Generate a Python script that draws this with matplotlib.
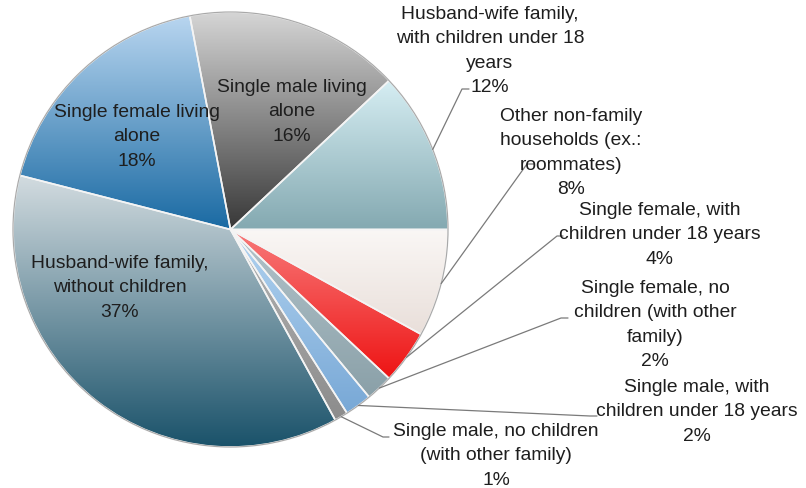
import numpy as np
import matplotlib
matplotlib.use("Agg")
import matplotlib.pyplot as plt
from matplotlib.colors import to_rgb

# Household types and their shares (%)
categories = [
    "Husband-wife family,\nwith children under 18\nyears",
    "Single male living\nalone",
    "Single female living\nalone",
    "Husband-wife family,\nwithout children",
    "Single male, no children\n(with other family)",
    "Single male, with\nchildren under 18 years",
    "Single female, no\nchildren (with other\nfamily)",
    "Single female, with\nchildren under 18 years",
    "Other non-family\nhouseholds (ex.:\nroommates)",
]
shares = [12, 16, 18, 37, 1, 2, 2, 4, 8]

# Vertical gradient of each slice: colour at its top and at its bottom
top_colors = ["#d6eef3", "#d6d6d6", "#b9d6f0", "#d3dce0", "#b4b4b4",
              "#b2d3f0", "#b3c4cb", "#f87a7a", "#faf7f5"]
bottom_colors = ["#84a9b1", "#383838", "#1a6aa3", "#1a526a", "#8c8c8c",
                 "#78a8d6", "#8aa0a8", "#ee1414", "#e9dfda"]

# Label placement (pixel coordinates, y measured from the top)
inside = {1: (292, 112), 2: (137, 137), 3: (120, 288)}
outside = {
    0: dict(text=(490, 51), bend=(462, 90), end=(469, 90)),
    8: dict(text=(571, 153), bend=(527, 165), end=(534, 165)),
    7: dict(text=(660, 235), bend=(557, 237), end=(563, 237)),
    6: dict(text=(655, 325), bend=(561, 319), end=(568, 319)),
    5: dict(text=(697, 412), bend=(590, 417), end=(597, 417)),
    4: dict(text=(496, 456), bend=(383, 438), end=(389, 438)),
}

W, H = 806, 489
fig = plt.figure(figsize=(W / 100, H / 100), dpi=100)
ax = fig.add_axes([0, 0, 1, 1])

cx, cy, r = 230.5, H - 230.5, 217.5
wedges, _ = ax.pie(shares, startangle=0, counterclock=True,
                   center=(cx, cy), radius=r,
                   wedgeprops=dict(edgecolor="#f4f4f4", linewidth=1.2))

for w, c_top, c_bot in zip(wedges, top_colors, bottom_colors):
    t = np.radians(np.linspace(w.theta1, w.theta2, 200))
    xs = np.concatenate([[cx], cx + r * np.cos(t)])
    ys = np.concatenate([[cy], cy + r * np.sin(t)])
    x0, x1, y0, y1 = xs.min(), xs.max(), ys.min(), ys.max()
    f = np.linspace(0, 1, 256)[:, None, None]
    grad = (1 - f) * np.array(to_rgb(c_bot)) + f * np.array(to_rgb(c_top))
    im = ax.imshow(grad, extent=(x0, x1, y0, y1), origin="lower",
                   aspect="auto", interpolation="bilinear", zorder=1)
    im.set_clip_path(w)
    w.set_facecolor("none")
    w.set_zorder(2)

ax.add_patch(plt.Circle((cx, cy), r, fill=False, edgecolor="#a8a8a8",
                        linewidth=0.8, zorder=3))

font = dict(family="Liberation Sans", fontsize=13.9, color="#1e1e1e",
            ha="center", va="center", multialignment="center",
            linespacing=1.55, zorder=5)

for i, (x, y) in inside.items():
    ax.text(x, H - y, f"{categories[i]}\n{shares[i]}%", **font)

for i, spec in outside.items():
    w = wedges[i]
    mid = np.radians((w.theta1 + w.theta2) / 2)
    sx, sy = cx + r * np.cos(mid), cy + r * np.sin(mid)
    bx, by = spec["bend"]
    ex, ey = spec["end"]
    ax.plot([sx, bx, ex], [sy, H - by, H - ey], color="#7a7a7a",
            linewidth=0.9, zorder=4, solid_capstyle="round")
    tx, ty = spec["text"]
    ax.text(tx, H - ty, f"{categories[i]}\n{shares[i]}%", **font)

ax.set_xlim(0, W)
ax.set_ylim(0, H)
ax.set_aspect("equal")
ax.axis("off")
fig.savefig("out.png", dpi=100, facecolor="white")
